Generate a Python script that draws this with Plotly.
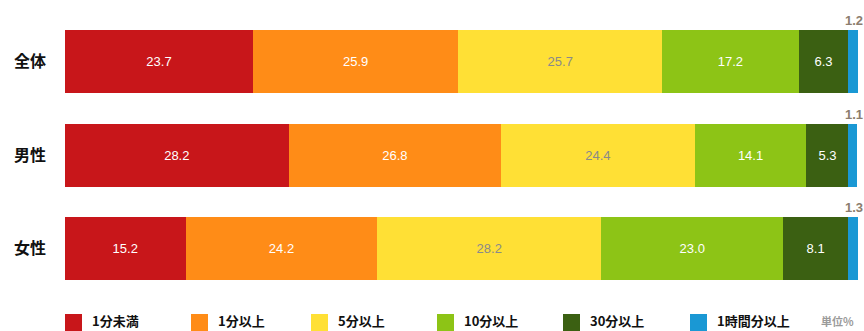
import plotly.graph_objects as go

categories = ["全体", "男性", "女性"]
series_names = ["1分未満", "1分以上", "5分以上", "10分以上", "30分以上", "1時間分以上"]
values = {
    "1分未満": [23.7, 28.2, 15.2],
    "1分以上": [25.9, 26.8, 24.2],
    "5分以上": [25.7, 24.4, 28.2],
    "10分以上": [17.2, 14.1, 23.0],
    "30分以上": [6.3, 5.3, 8.1],
    "1時間分以上": [1.2, 1.1, 1.3],
}
colors = ["#c8161a", "#ff8c17", "#ffe035", "#8dc416", "#3b6012", "#1a98d4"]
text_colors = ["#ffffff", "#ffffff", "#8a8a8a", "#ffffff", "#ffffff", "#ffffff"]
unit_label = "単位%"

W, H = 864, 331
ML, MR, MT, MB = 65, 6, 15, 32
PW, PH = W - ML - MR, H - MT - MB

fig = go.Figure()
for i, name in enumerate(series_names):
    show_text = name != "1時間分以上"
    fig.add_trace(go.Bar(
        y=categories, x=values[name], orientation="h", name=name,
        marker=dict(color=colors[i], line=dict(width=0)),
        text=[f"{v:.1f}" for v in values[name]] if show_text else None,
        textposition="inside" if show_text else "none",
        insidetextanchor="middle",
        textfont=dict(family="Liberation Sans, Arial", size=13, color=text_colors[i]),
        hoverinfo="skip",
    ))

annotations = []
# small values above bar ends
for cat, v in zip(categories, values["1時間分以上"]):
    annotations.append(dict(
        x=100, y=cat, xref="x", yref="y", text=f"<b>{v:.1f}</b>", showarrow=False,
        xanchor="center", yanchor="middle", xshift=-4, yshift=41,
        font=dict(family="Liberation Sans, Arial", size=13, color="#8c7d6e"),
    ))

def px_to_paper_x(px):
    return (px - ML) / PW

def py_to_paper_y(py):
    return (MT + PH - py) / PH

shapes = []
legend_x = [65, 191, 311, 437, 563, 690]
for i, name in enumerate(series_names):
    x0 = legend_x[i]
    shapes.append(dict(
        type="rect", xref="paper", yref="paper",
        x0=px_to_paper_x(x0), x1=px_to_paper_x(x0 + 17),
        y0=py_to_paper_y(331), y1=py_to_paper_y(314),
        fillcolor=colors[i], line=dict(width=0),
    ))
    annotations.append(dict(
        x=px_to_paper_x(x0 + 25), y=py_to_paper_y(321), xref="paper", yref="paper",
        text=f"<b>{name}</b>", showarrow=False, xanchor="left", yanchor="middle",
        font=dict(family="Noto Sans CJK JP", size=13, color="#111111"),
    ))
annotations.append(dict(
    x=px_to_paper_x(819), y=py_to_paper_y(321), xref="paper", yref="paper",
    text=f"<b>{unit_label}</b>", showarrow=False, xanchor="left", yanchor="middle",
    font=dict(family="Noto Sans CJK JP", size=11, color="#9a9a9a"),
))

fig.update_layout(
    barmode="stack", bargap=1 - 64 / 95,
    width=W, height=H,
    margin=dict(l=ML, r=MR, t=MT, b=MB),
    paper_bgcolor="white", plot_bgcolor="white",
    showlegend=False,
    xaxis=dict(range=[0, 100], visible=False, fixedrange=True),
    yaxis=dict(autorange="reversed", showgrid=False, zeroline=False, showline=False,
               ticks="", ticklabelstandoff=18,
               tickfont=dict(family="Noto Sans CJK JP", size=16, color="#111111"),
               tickvals=categories, ticktext=[f"<b>{c}</b>" for c in categories]),
    annotations=annotations, shapes=shapes,
    uniformtext=dict(mode=False),
)

fig.write_html("out.html", config={"displayModeBar": False})
